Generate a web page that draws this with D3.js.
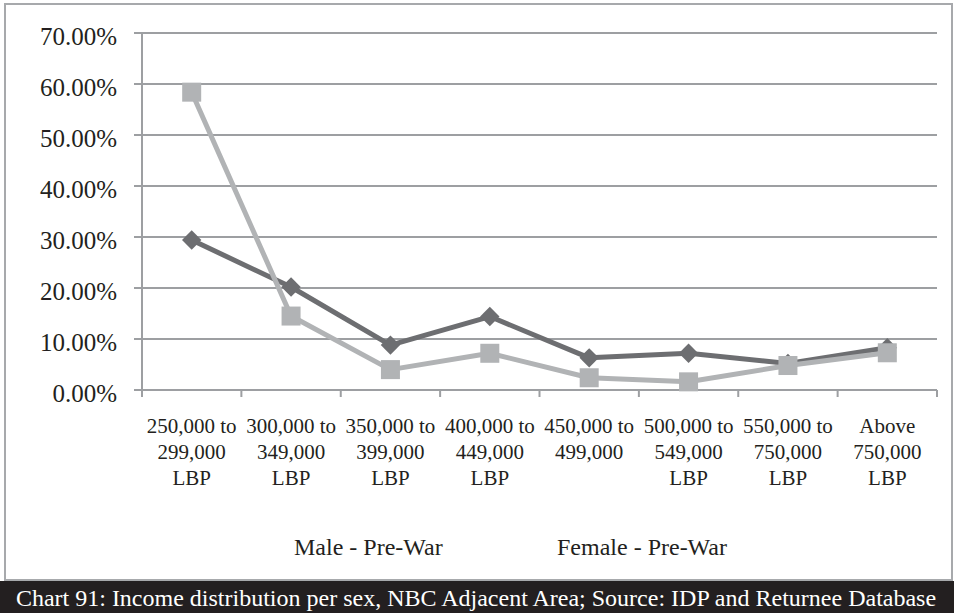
<!DOCTYPE html>
<html>
<head>
<meta charset="utf-8">
<script src="https://cdn.jsdelivr.net/npm/d3@7"></script>
<style>
  body { margin: 0; background: #fff; }
  svg { display: block; }
</style>
</head>
<body>
<script>
// chart values (percent)
var categories = [
  ["250,000 to", "299,000", "LBP"],
  ["300,000 to", "349,000", "LBP"],
  ["350,000 to", "399,000", "LBP"],
  ["400,000 to", "449,000", "LBP"],
  ["450,000 to", "499,000"],
  ["500,000 to", "549,000", "LBP"],
  ["550,000 to", "750,000", "LBP"],
  ["Above", "750,000", "LBP"]
];
var maleValues = [29.4, 20.2, 8.8, 14.4, 6.3, 7.2, 5.2, 8.3];
var femaleValues = [58.4, 14.5, 4.0, 7.2, 2.4, 1.6, 4.8, 7.3];
var yTicks = [0, 10, 20, 30, 40, 50, 60, 70];
var seriesNames = ["Male - Pre-War", "Female - Pre-War"];
var caption = "Chart 91: Income distribution per sex, NBC Adjacent Area; Source: IDP and Returnee Database";

var W = 954, H = 613;
var plot = {left: 142, right: 937, top: 33, bottom: 390};
var serif = "'Liberation Serif', 'Times New Roman', serif";

var svg = d3.select("body").append("svg")
    .attr("width", W)
    .attr("height", H)
    .style("font-family", serif);

// outer frame
svg.append("rect")
    .attr("x", 5).attr("y", 4)
    .attr("width", 947).attr("height", 576)
    .attr("fill", "#fff")
    .attr("stroke", "#a7a9ac")
    .attr("stroke-width", 2);

var x = d3.scaleBand()
    .domain(d3.range(categories.length))
    .range([plot.left, plot.right]);

var y = d3.scaleLinear()
    .domain([0, 70])
    .range([plot.bottom, plot.top]);

// gridlines
svg.append("g")
    .selectAll("line")
    .data(yTicks)
    .enter()
    .append("line")
    .attr("x1", plot.left - 8)
    .attr("x2", plot.right)
    .attr("y1", function(d) { return y(d); })
    .attr("y2", function(d) { return y(d); })
    .attr("stroke", "#9d9fa2")
    .attr("stroke-width", 2);

// y axis
var yAxis = svg.append("g")
    .attr("transform", "translate(" + plot.left + ",0)")
    .call(d3.axisLeft(y).tickValues(yTicks).tickSize(0).tickPadding(25)
        .tickFormat(function(d) { return d.toFixed(2) + "%"; }));
yAxis.select(".domain").remove();
yAxis.selectAll("text")
    .attr("dy", "0.45em")
    .style("font-family", serif)
    .style("font-size", "25px")
    .attr("fill", "#231f20");

svg.append("line")
    .attr("x1", plot.left).attr("x2", plot.left)
    .attr("y1", plot.top).attr("y2", plot.bottom + 7)
    .attr("stroke", "#9d9fa2")
    .attr("stroke-width", 2);

// x ticks at category boundaries
var bounds = d3.range(categories.length + 1).map(function(i) {
    return plot.left + i * x.step();
});
svg.append("g")
    .selectAll("line")
    .data(bounds.slice(1))
    .enter()
    .append("line")
    .attr("x1", function(d) { return d; })
    .attr("x2", function(d) { return d; })
    .attr("y1", plot.bottom)
    .attr("y2", plot.bottom + 7)
    .attr("stroke", "#9d9fa2")
    .attr("stroke-width", 2);

// x labels
var xl = svg.append("g")
    .selectAll("text")
    .data(categories)
    .enter()
    .append("text")
    .attr("text-anchor", "middle")
    .style("font-family", serif)
    .style("font-size", "21px")
    .attr("fill", "#231f20")
    .attr("transform", function(d, i) {
        return "translate(" + (x(i) + x.bandwidth() / 2) + ",433)";
    });
xl.selectAll("tspan")
    .data(function(d) { return d; })
    .enter()
    .append("tspan")
    .attr("x", 0)
    .attr("dy", function(d, j) { return j === 0 ? 0 : 26; })
    .text(function(d) { return d; });

// series
var line = d3.line()
    .x(function(d, i) { return x(i) + x.bandwidth() / 2; })
    .y(function(d) { return y(d); });

var colors = ["#6d6e71", "#b1b3b5"];

svg.append("path")
    .datum(maleValues)
    .attr("d", line)
    .attr("fill", "none")
    .attr("stroke", colors[0])
    .attr("stroke-width", 5)
    .attr("stroke-linejoin", "round");

svg.append("g")
    .selectAll("path")
    .data(maleValues)
    .enter()
    .append("path")
    .attr("d", d3.symbol().type(d3.symbolDiamond2).size(240))
    .attr("transform", function(d, i) {
        return "translate(" + (x(i) + x.bandwidth() / 2) + "," + y(d) + ")";
    })
    .attr("fill", colors[0]);

svg.append("path")
    .datum(femaleValues)
    .attr("d", line)
    .attr("fill", "none")
    .attr("stroke", colors[1])
    .attr("stroke-width", 5)
    .attr("stroke-linejoin", "round");

svg.append("g")
    .selectAll("rect")
    .data(femaleValues)
    .enter()
    .append("rect")
    .attr("x", function(d, i) { return x(i) + x.bandwidth() / 2 - 9.5; })
    .attr("y", function(d) { return y(d) - 9.5; })
    .attr("width", 19)
    .attr("height", 19)
    .attr("fill", colors[1]);

// legend
svg.append("g")
    .selectAll("text")
    .data(seriesNames)
    .enter()
    .append("text")
    .attr("x", function(d, i) { return i === 0 ? 294 : 557; })
    .attr("y", 555)
    .style("font-family", serif)
    .style("font-size", "24px")
    .attr("fill", "#231f20")
    .text(function(d) { return d; });

// caption bar
svg.append("rect")
    .attr("x", 0).attr("y", 581)
    .attr("width", W).attr("height", H - 581)
    .attr("fill", "#231f20");

svg.append("text")
    .attr("x", W / 2 - 1)
    .attr("y", 606)
    .attr("text-anchor", "middle")
    .style("font-family", serif)
    .style("font-size", "24px")
    .attr("fill", "#fff")
    .text(caption);
</script>
</body>
</html>
